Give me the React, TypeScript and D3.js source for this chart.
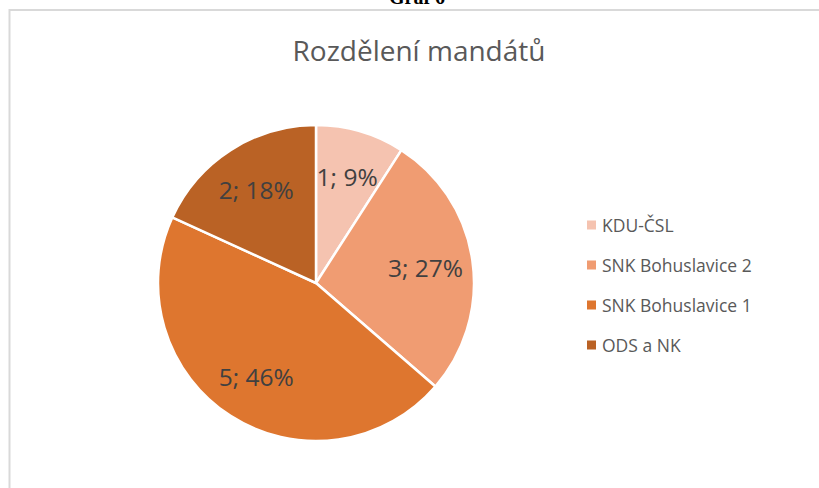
import React from "react";
import * as d3 from "d3";

const categories = ["KDU-ČSL", "SNK Bohuslavice 2", "SNK Bohuslavice 1", "ODS a NK"];
const seats = [1, 3, 5, 2];
const percentLabels = ["9%", "27%", "46%", "18%"];
const colors = ["#F5C3B0", "#F09C72", "#DE762F", "#BA6225"];

const W = 819;
const H = 488;
const cx = 316;
const cy = 283;
const R = 158;

export default function App() {
  const pie = d3.pie<number>().sort(null).value((d) => d);
  const arcs = pie(seats);
  const arcGen = d3.arc<d3.PieArcDatum<number>>().innerRadius(0).outerRadius(R);
  const labelArc = d3.arc<d3.PieArcDatum<number>>().innerRadius(R * 0.7).outerRadius(R * 0.7);
  const legendY = d3.scalePoint<string>().domain(categories).range([225, 345]);

  return (
    <svg
      width={W}
      height={H}
      style={{ position: "absolute", left: 0, top: 0, background: "#fff" }}
      fontFamily="'Open Sans', 'Noto Sans', sans-serif"
    >
      <text x={417} y={4} textAnchor="middle" fontFamily="'Liberation Serif', serif" fontWeight="bold" fontSize={20} fill="#000">
        Graf 6
      </text>
      <rect x={9.5} y={10} width={900} height={600} fill="#fff" stroke="#d9d9d9" strokeWidth={2} />
      <text x={419} y={61} textAnchor="middle" fontSize={28} fill="#595959">
        Rozdělení mandátů
      </text>
      <g transform={`translate(${cx},${cy})`}>
        {arcs.map((a, i) => (
          <path key={i} d={arcGen(a) || ""} fill={colors[i]} stroke="#fff" strokeWidth={2.5} strokeLinejoin="round" />
        ))}
        {arcs.map((a, i) => {
          const [lx, ly] = labelArc.centroid(a);
          return (
            <text key={i} x={lx} y={ly} textAnchor="middle" dominantBaseline="central" fontSize={24.5} fill="#404040">
              {`${seats[i]}; ${percentLabels[i]}`}
            </text>
          );
        })}
      </g>
      <g>
        {categories.map((c, i) => (
          <g key={c} transform={`translate(587,${legendY(c)})`}>
            <rect x={0} y={-4.5} width={9} height={9} fill={colors[i]} />
            <text x={15} y={0} dominantBaseline="central" fontSize={17.5} fill="#595959">
              {c}
            </text>
          </g>
        ))}
      </g>
    </svg>
  );
}
